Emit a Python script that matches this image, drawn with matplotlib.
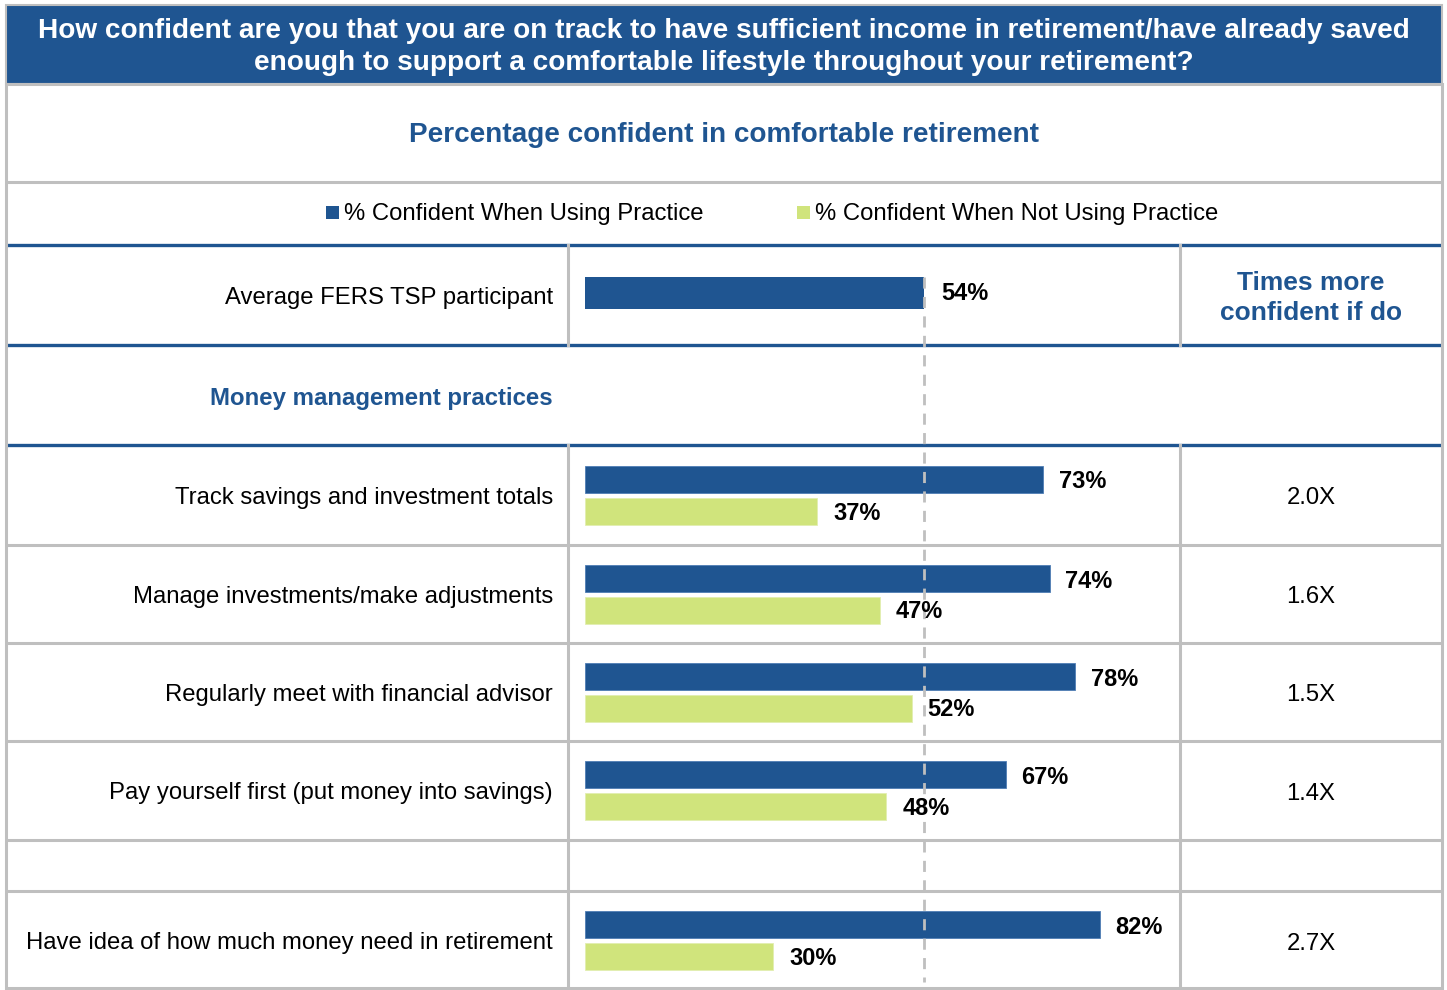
import matplotlib
matplotlib.use("Agg")
import matplotlib.pyplot as plt
from matplotlib import font_manager
from matplotlib.patches import Rectangle

plt.rcParams['font.family'] = ['Liberation Sans', 'DejaVu Sans']

title = ("How confident are you that you are on track to have sufficient income in retirement/have already saved\n"
         "enough to support a comfortable lifestyle throughout your retirement?")
subtitle = "Percentage confident in comfortable retirement"
legend_labels = ["% Confident When Using Practice", "% Confident When Not Using Practice"]

avg_label = "Average FERS TSP participant"
avg_value = 54

practices = [
    "Track savings and investment totals",
    "Manage investments/make adjustments",
    "Regularly meet with financial advisor",
    "Pay yourself first (put money into savings)",
    "Have idea of how much money need in retirement",
]
using = [73, 74, 78, 67, 82]
not_using = [37, 47, 52, 48, 30]
times_more = ["2.0X", "1.6X", "1.5X", "1.4X", "2.7X"]

BLUE = "#1F5591"
GREEN = "#D0E47C"
GRAY = "#BFBFBF"

W, H = 1447, 990
# pixel rows of the table body (top, bottom); the empty spacer row sits before the last practice
practice_rows = [(445, 545), (545, 643), (643, 741), (741, 840), (891, 990)]
avg_row = (245, 345)

narrow = 'Liberation Sans Narrow'
have_narrow = any(f.name == narrow for f in font_manager.fontManager.ttflist)
value_font = [narrow, 'Liberation Sans'] if have_narrow else ['Liberation Sans']

fig = plt.figure(figsize=(W / 100, H / 100), dpi=100)
ax = fig.add_axes([0, 0, 1, 1])
ax.set_xlim(0, W)
ax.set_ylim(H, 0)
ax.axis("off")

# header band
ax.add_patch(Rectangle((6, 5), 1436, 79, facecolor=BLUE, edgecolor=GRAY, lw=1.5))
ax.text(724, 47, title, color="white", fontsize=20.2, fontweight="bold",
        ha="center", va="center", linespacing=1.3)
ax.text(724, 135, subtitle, color=BLUE, fontsize=20.1, fontweight="bold",
        ha="center", va="center")

# legend
ax.add_patch(Rectangle((326, 206), 13, 13, facecolor=BLUE, lw=0))
ax.text(344, 214, legend_labels[0], fontsize=17.2, ha="left", va="center")
ax.add_patch(Rectangle((797, 206), 13, 13, facecolor=GREEN, lw=0))
ax.text(815, 214, legend_labels[1], fontsize=17.2, ha="left", va="center")

# grid lines
for y in [84, 182, 545, 643, 741, 840, 891, 988]:
    ax.plot([6, 1442], [y, y], color=GRAY, lw=2.2, solid_capstyle="butt")
for y in [245, 345, 445]:
    ax.plot([6, 1442], [y, y], color=BLUE, lw=2.4, solid_capstyle="butt")
for x in [6, 1442]:
    ax.plot([x, x], [84, 988], color=GRAY, lw=2.2)
for x in [568, 1180]:
    ax.plot([x, x], [245, 345], color=GRAY, lw=2.2)
    ax.plot([x, x], [445, 988], color=GRAY, lw=2.2)

# row labels and ratio column
ax.text(553, sum(avg_row) / 2 + 3, avg_label, fontsize=17.2, ha="right", va="center")
ax.text(1311, 298, "Times more\nconfident if do", color=BLUE, fontsize=19,
        fontweight="bold", ha="center", va="center", linespacing=1.32)
ax.text(553, 398, "Money management practices", color=BLUE, fontsize=17.3,
        fontweight="bold", ha="right", va="center")
for (top, bot), name, ratio in zip(practice_rows, practices, times_more):
    yc = (top + bot) / 2 + 3
    ax.text(553, yc, name, fontsize=17.2, ha="right", va="center")
    ax.text(1311, yc, ratio, fontsize=17.2, ha="center", va="center")

# bars: x in percent, y in pixel rows
bx = fig.add_axes([585 / W, 0, 628 / W, 1])
bx.set_xlim(0, 100)
bx.set_ylim(H, 0)
bx.axis("off")
bx.patch.set_alpha(0)

avg_y = sum(avg_row) / 2 - 2
bx.barh(avg_y, avg_value, height=32, color=BLUE, left=0)
bx.text(avg_value + 2.7, avg_y + 1, f"{avg_value}%", fontsize=17, fontweight="bold",
        family=value_font, ha="left", va="center")

centers = [(t + b) / 2 for t, b in practice_rows]
blue_y = [c - 16 for c in centers]
green_y = [c + 16 for c in centers]
bx.barh(blue_y, using, height=27, color=BLUE, edgecolor="#4F7DB5", lw=0.6)
bx.barh(green_y, not_using, height=27, color=GREEN, edgecolor="#E2EEB0", lw=0.6)
for y, v in zip(blue_y, using):
    bx.text(v + 2.5, y + 3, f"{v}%", fontsize=17, fontweight="bold",
            family=value_font, ha="left", va="center")
for y, v in zip(green_y, not_using):
    bx.text(v + 2.5, y + 2, f"{v}%", fontsize=17, fontweight="bold",
            family=value_font, ha="left", va="center")

# reference line at the average participant level
bx.plot([avg_value, avg_value], [277, 982], color=GRAY, lw=2, ls=(0, (4, 3)))

fig.savefig("out.png", dpi=100)
